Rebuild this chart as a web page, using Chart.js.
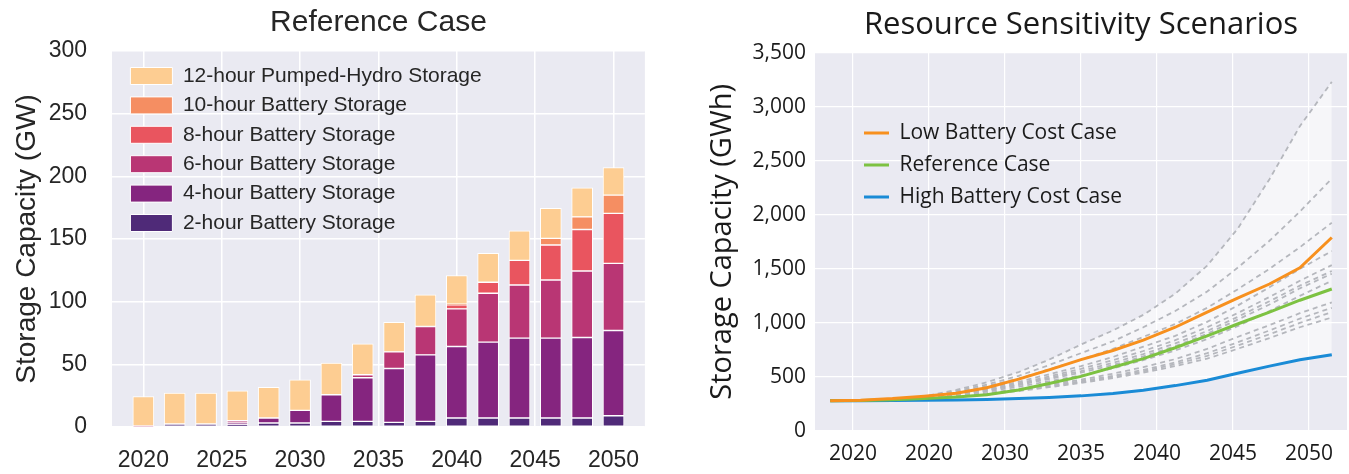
<!DOCTYPE html>
<html>
<head>
<meta charset="utf-8">
<script src="https://cdn.jsdelivr.net/npm/chart.js@4.4.1/dist/chart.umd.min.js"></script>
<style>
  html, body { margin: 0; padding: 0; background: #fff; }
  #left { position: absolute; left: 0; top: 0; }
  #right { position: absolute; left: 690px; top: 0; }
</style>
</head>
<body>
<canvas id="left" width="660" height="474"></canvas>
<canvas id="right" width="659" height="474"></canvas>
<script>
// start: data - Reference Case (GW)
const barYears = [2020, 2022, 2024, 2026, 2028, 2030, 2032, 2034, 2036, 2038, 2040, 2042, 2044, 2046, 2048, 2050];
const twoHour   = [0, 2.4, 2.4, 1.9, 3.2, 3.2, 4.5, 4.5, 3.7, 4.5, 7.2, 7.2, 7.2, 7.2, 7.2, 9.0];
const fourHour  = [0, 0, 0, 1.3, 4.0, 10.1, 21.2, 34.8, 43.0, 53.1, 57.0, 60.5, 63.7, 63.7, 64.2, 68.0];
const sixHour   = [0.8, 0, 0, 1.8, 0, 0, 0, 2.4, 13.3, 22.6, 30.0, 39.0, 42.4, 46.4, 53.1, 53.6];
const eightHour = [0, 0, 0, 0, 0, 0, 0, 0, 0, 0, 3.3, 8.8, 19.7, 27.9, 33.1, 39.8];
const tenHour   = [0, 0, 0, 0, 0, 0, 0, 0, 0, 0, 0.6, 0, 0, 5.3, 10.1, 14.6];
const pumpedHydro = [23.5, 24.7, 24.7, 23.9, 24.4, 24.4, 25.3, 24.6, 23.6, 25.2, 22.8, 23.0, 23.6, 23.9, 23.1, 21.9];
const barTickYears = [2020, 2025, 2030, 2035, 2040, 2045, 2050];

// Resource Sensitivity Scenarios (GWh)
const lineYears = [2018.5, 2020.5, 2022.6, 2024.7, 2026.8, 2028.8, 2030.9, 2032.9, 2035.0, 2037.1, 2039.1, 2041.2, 2043.3, 2045.3, 2047.4, 2049.4, 2051.5];
const lowCost  = [280, 285, 300, 322, 350, 400, 480, 565, 660, 745, 840, 960, 1100, 1230, 1360, 1510, 1790];
const refCase  = [280, 283, 290, 300, 315, 335, 380, 440, 505, 590, 670, 770, 880, 990, 1100, 1210, 1314];
const highCost = [280, 281, 283, 285, 287, 292, 300, 310, 325, 348, 378, 420, 470, 535, 600, 660, 705];
const scenarios = [
    [280, 284, 292, 320, 380, 450, 545, 660, 800, 930, 1075, 1270, 1530, 1870, 2330, 2820, 3230],
    [280, 284, 292, 318, 370, 430, 510, 610, 720, 830, 960, 1110, 1290, 1510, 1760, 2030, 2335],
    [280, 284, 292, 315, 360, 415, 485, 570, 660, 760, 870, 990, 1140, 1310, 1500, 1700, 1927],
    [280, 283, 291, 310, 345, 395, 455, 525, 600, 685, 780, 880, 1010, 1160, 1330, 1500, 1665],
    [280, 283, 290, 308, 340, 385, 440, 505, 575, 655, 740, 840, 960, 1090, 1240, 1390, 1535],
    [280, 283, 290, 307, 338, 380, 432, 492, 555, 630, 712, 810, 925, 1055, 1200, 1345, 1480],
    [280, 283, 290, 306, 335, 375, 425, 480, 540, 610, 690, 785, 900, 1030, 1170, 1320, 1455],
    [280, 283, 289, 304, 330, 365, 410, 460, 515, 580, 655, 745, 850, 970, 1110, 1250, 1390],
    [280, 282, 288, 300, 322, 350, 390, 430, 475, 530, 590, 665, 760, 870, 980, 1090, 1190],
    [280, 282, 287, 298, 318, 345, 380, 420, 460, 510, 565, 635, 720, 820, 930, 1040, 1140],
    [280, 282, 287, 297, 316, 342, 375, 412, 452, 500, 552, 618, 695, 790, 895, 1000, 1100],
    [280, 282, 286, 296, 313, 338, 370, 405, 445, 490, 540, 600, 670, 760, 860, 960, 1050]
];
const lineTickYears = [2020, 2025, 2030, 2035, 2040, 2045, 2050];
const lineTickLabels = ['2020', '2020', '2030', '2035', '2040', '2045', '2050'];
// end: data

// grey plot background (seaborn style)
const plotBg = {
    id: 'plotBg',
    beforeDraw(chart, args, opts) {
        const {ctx, chartArea: a} = chart;
        ctx.save();
        ctx.fillStyle = opts.color;
        ctx.fillRect(a.left, a.top, a.width, a.height);
        ctx.restore();
    }
};
// move the in-plot legend (its top starts at 0 in chartArea mode)
const nudgeLegend = {
    id: 'nudgeLegend',
    afterLayout(chart, args, opts) {
        const lg = chart.legend;
        if (!lg) return;
        lg.left += opts.dx; lg.right += opts.dx;
        lg.top += opts.dy; lg.bottom += opts.dy;
    }
};

const sans = 'Liberation Sans';
const dark = '#262626';

const barSeries = [
    {label: '2-hour Battery Storage', data: twoHour, color: '#4f2a78'},
    {label: '4-hour Battery Storage', data: fourHour, color: '#85257f'},
    {label: '6-hour Battery Storage', data: sixHour, color: '#b93674'},
    {label: '8-hour Battery Storage', data: eightHour, color: '#e9555f'},
    {label: '10-hour Battery Storage', data: tenHour, color: '#f58e62'},
    {label: '12-hour Pumped-Hydro Storage', data: pumpedHydro, color: '#fdcd92'}
];

new Chart(document.getElementById('left'), {
    type: 'bar',
    data: {
        datasets: barSeries.map(s => ({
            label: s.label,
            data: barYears.map((yr, i) => ({x: yr, y: s.data[i]})),
            backgroundColor: s.color,
            borderColor: '#ffffff',
            borderWidth: 1,
            borderSkipped: false,
            barThickness: 21
        }))
    },
    options: {
        responsive: false,
        animation: false,
        devicePixelRatio: 1,
        layout: {padding: {left: 0, right: 12, top: 0, bottom: 0}},
        scales: {
            x: {
                type: 'linear',
                stacked: true,
                offset: false,
                min: 2018,
                max: 2052,
                afterBuildTicks: s => { s.ticks = barTickYears.map(v => ({value: v})); },
                afterFit: s => { s.height = 47; },
                grid: {color: '#ffffff', lineWidth: 1.5, drawTicks: false, offset: false},
                border: {display: false},
                ticks: {padding: 20, color: dark, font: {family: sans, size: 23}, callback: v => String(v)}
            },
            y: {
                stacked: true,
                min: 0,
                max: 300,
                afterFit: s => { s.width = 112; },
                grid: {color: '#ffffff', lineWidth: 1.5, drawTicks: false},
                border: {display: false},
                ticks: {stepSize: 50, padding: 25, color: dark, font: {family: sans, size: 23}},
                title: {display: true, text: 'Storage Capacity (GW)', color: dark,
                        font: {family: sans, size: 28}, padding: {top: 10, bottom: 0}}
            }
        },
        plugins: {
            title: {display: true, fullSize: false, text: 'Reference Case', color: dark,
                    font: {family: sans, size: 30, weight: 'normal'}, padding: {top: 5, bottom: 10}},
            legend: {
                position: 'chartArea',
                align: 'start',
                reverse: true,
                labels: {boxWidth: 42, boxHeight: 17, padding: 8.4, color: dark, font: {family: sans, size: 21}}
            },
            tooltip: {enabled: false},
            plotBg: {color: '#eaeaf2'},
            nudgeLegend: {dx: 10, dy: 57.1}
        }
    },
    plugins: [plotBg, nudgeLegend]
});

// right panel
const myriad = 'Open Sans';
const black = '#1a1a1a';

const mainLines = [
    {label: 'Low Battery Cost Case', data: lowCost, color: '#f7901e'},
    {label: 'Reference Case', data: refCase, color: '#7dc242'},
    {label: 'High Battery Cost Case', data: highCost, color: '#1a8bd6'}
];

const lineDatasets = mainLines.map(s => ({
    label: s.label,
    data: lineYears.map((yr, i) => ({x: yr, y: s.data[i]})),
    borderColor: s.color,
    backgroundColor: s.color,
    borderWidth: 3,
    pointRadius: 0,
    tension: 0,
    fill: false
}));
scenarios.forEach((vals, k) => {
    lineDatasets.push({
        label: 'Scenario ' + (k + 1),
        data: lineYears.map((yr, i) => ({x: yr, y: vals[i]})),
        borderColor: '#b5b7bd',
        borderWidth: 1.8,
        borderDash: [5, 4],
        pointRadius: 0,
        tension: 0,
        // band between the highest scenario and the high cost case
        fill: k === 0 ? {target: 2} : false,
        backgroundColor: 'rgba(255, 255, 255, 0.55)'
    });
});

new Chart(document.getElementById('right'), {
    type: 'line',
    data: {datasets: lineDatasets},
    options: {
        responsive: false,
        animation: false,
        devicePixelRatio: 1,
        layout: {padding: {left: 0, right: 2, top: 0, bottom: 0}},
        scales: {
            x: {
                type: 'linear',
                min: 2017.5,
                max: 2052.5,
                afterBuildTicks: s => { s.ticks = lineTickYears.map(v => ({value: v})); },
                afterFit: s => { s.height = 43; },
                grid: {color: '#ffffff', lineWidth: 1.2, drawTicks: false},
                border: {display: false},
                ticks: {padding: 10, color: black, font: {family: myriad, size: 21},
                        callback: (v, i) => lineTickLabels[i]}
            },
            y: {
                min: 0,
                max: 3500,
                afterFit: s => { s.width = 125; },
                grid: {color: '#ffffff', lineWidth: 1.2, drawTicks: false},
                border: {display: false},
                ticks: {stepSize: 500, padding: 9, color: black, font: {family: myriad, size: 21},
                        callback: v => v.toLocaleString('en-US')},
                title: {display: true, text: 'Storage Capacity (GWh)', color: black,
                        font: {family: myriad, size: 29}, padding: {top: 15.6, bottom: 0}}
            }
        },
        plugins: {
            title: {display: true, fullSize: false, text: 'Resource Sensitivity Scenarios', color: black,
                    font: {family: myriad, size: 31, weight: 'normal'}, padding: {top: 6.4, bottom: 9.1}},
            legend: {
                position: 'chartArea',
                align: 'start',
                labels: {
                    filter: item => item.datasetIndex < 3,
                    usePointStyle: true,
                    pointStyle: 'line',
                    pointStyleWidth: 25,
                    padding: 11,
                    color: black,
                    font: {family: myriad, size: 21}
                }
            },
            filler: {drawTime: 'beforeDatasetsDraw'},
            tooltip: {enabled: false},
            plotBg: {color: '#eaeaf2'},
            nudgeLegend: {dx: 38, dy: 111.5}
        }
    },
    plugins: [plotBg, nudgeLegend]
});
</script>
</body>
</html>
